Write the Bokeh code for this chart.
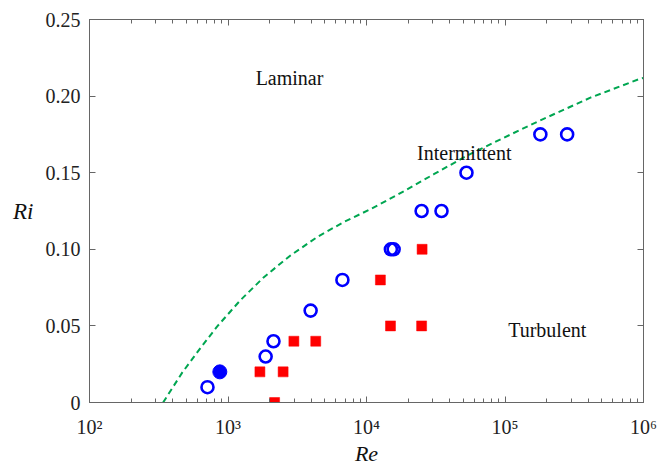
from bokeh.plotting import figure
from bokeh.models import Range1d, LinearAxis, LogAxis, FixedTicker, Label
from bokeh.embed import file_html
from bokeh.resources import INLINE

# ---- data ----
# intermittent (open blue circles)
inter_re = [711, 1870, 2130, 3950, 6700, 15000, 15700, 25000, 34800, 52700, 180000, 281000]
inter_ri = [0.01, 0.03, 0.04, 0.06, 0.08, 0.10, 0.10, 0.125, 0.125, 0.15, 0.175, 0.175]
# laminar (filled blue circle) with small error cap
lam_re = [873]
lam_ri = [0.02]
lam_err_top = [0.0245]
# turbulent (red squares)
turb_re = [1700, 2500, 2170, 2990, 4300, 12600, 25200, 14900, 25000]
turb_ri = [0.02, 0.02, 0.0, 0.04, 0.04, 0.08, 0.10, 0.05, 0.05]
# dashed boundary curve
curve_re = [340, 467, 632, 836, 1230, 1815, 2825, 4405, 6855, 10690, 16670,
            30620, 53330, 92900, 170600, 414000, 950600, 1000000]
curve_ri = [0.0, 0.0195, 0.0355, 0.0497, 0.0668, 0.0818, 0.0960, 0.1080, 0.1178,
            0.1262, 0.1355, 0.1490, 0.1612, 0.1718, 0.1832, 0.1990, 0.2114, 0.2118]
# ticks
x_ticks = [1e2, 1e3, 1e4, 1e5, 1e6]
x_tick_labels = ["10\u00b2", "10\u00b3", "10\u2074", "10\u2075", "10\u2076"]
y_ticks = [0.0, 0.05, 0.10, 0.15, 0.20, 0.25]
y_tick_labels = ["0", "0.05", "0.10", "0.15", "0.20", "0.25"]
# region labels
region_text = ["Laminar", "Intermittent", "Turbulent"]
region_re = [2780, 50800, 201800]
region_ri = [0.2116, 0.1626, 0.0475]

FONT = "Liberation Serif"
AXC = "#666666"
TXT = "#222222"

p = figure(width=662, height=468, x_axis_type="log",
           x_range=Range1d(1e2, 1e6), y_range=Range1d(0, 0.25),
           output_backend="svg", toolbar_location=None,
           min_border_left=89, min_border_right=19,
           min_border_top=19, min_border_bottom=65)
p.xgrid.visible = False
p.ygrid.visible = False
p.outline_line_color = AXC
p.background_fill_color = "white"
p.border_fill_color = "white"

minor = [m * t for t in x_ticks[:-1] for m in range(2, 10)]
xticker = FixedTicker(ticks=x_ticks, minor_ticks=minor)
yticker = FixedTicker(ticks=y_ticks, minor_ticks=[])

def hide_labels(ax):
    ax.major_label_text_font_size = "1px"
    ax.major_label_text_alpha = 0
    ax.major_label_standoff = 0

def style_x(ax, labels):
    ax.ticker = xticker
    ax.axis_line_color = AXC
    ax.major_tick_line_color = AXC
    ax.minor_tick_line_color = AXC
    ax.major_tick_in = 6
    ax.major_tick_out = 0
    ax.minor_tick_in = 4
    ax.minor_tick_out = 0
    if labels:
        ax.major_label_overrides = {v: s for v, s in zip(x_ticks, x_tick_labels)}
        ax.major_label_text_font = FONT
        ax.major_label_text_font_size = "20px"
        ax.major_label_text_color = TXT
        ax.major_label_standoff = 13
        ax.axis_label = "Re"
        ax.axis_label_text_font = FONT
        ax.axis_label_text_font_style = "italic"
        ax.axis_label_text_font_size = "22px"
        ax.axis_label_text_color = "#111111"
        ax.axis_label_standoff = 0
    else:
        hide_labels(ax)

def style_y(ax, labels):
    ax.ticker = yticker
    ax.axis_line_color = AXC
    ax.major_tick_line_color = AXC
    ax.minor_tick_line_color = None
    ax.major_tick_in = 6
    ax.major_tick_out = 0
    if labels:
        ax.major_label_overrides = {v: s for v, s in zip(y_ticks, y_tick_labels)}
        ax.major_label_text_font = FONT
        ax.major_label_text_font_size = "20px"
        ax.major_label_text_color = TXT
        ax.major_label_standoff = 9
        ax.axis_label = "Ri"
        ax.axis_label_orientation = "horizontal"
        ax.axis_label_text_font = FONT
        ax.axis_label_text_font_style = "italic"
        ax.axis_label_text_font_size = "23px"
        ax.axis_label_text_color = "#111111"
        ax.axis_label_standoff = 9
    else:
        hide_labels(ax)

style_x(p.xaxis[0], True)
style_y(p.yaxis[0], True)
top = LogAxis()
style_x(top, False)
p.add_layout(top, "above")
right = LinearAxis()
style_y(right, False)
p.add_layout(right, "right")

# curve
p.line(curve_re, curve_ri, line_color="#00a651", line_width=2, line_dash="6 4")
# markers
p.scatter(turb_re, turb_ri, marker="square", size=10, fill_color="#ff0000",
          line_color="#ff0000", line_width=0.5)
p.segment(lam_re, lam_ri, lam_re, lam_err_top, line_color="black", line_width=1.5)
p.scatter(lam_re, lam_ri, marker="circle", size=14, fill_color="#0000ff",
          line_color="#0000ff")
p.scatter(inter_re, inter_ri, marker="circle", size=12, fill_color=None,
          line_color="#0000ff", line_width=2.6)

# region labels
for t, xr, yr in zip(region_text, region_re, region_ri):
    p.add_layout(Label(x=xr, y=yr, text=t, text_font=FONT, text_font_size="20px",
                       text_align="center", text_baseline="middle",
                       text_color="#111111"))

open("out.html", "w").write(file_html(p, INLINE))
